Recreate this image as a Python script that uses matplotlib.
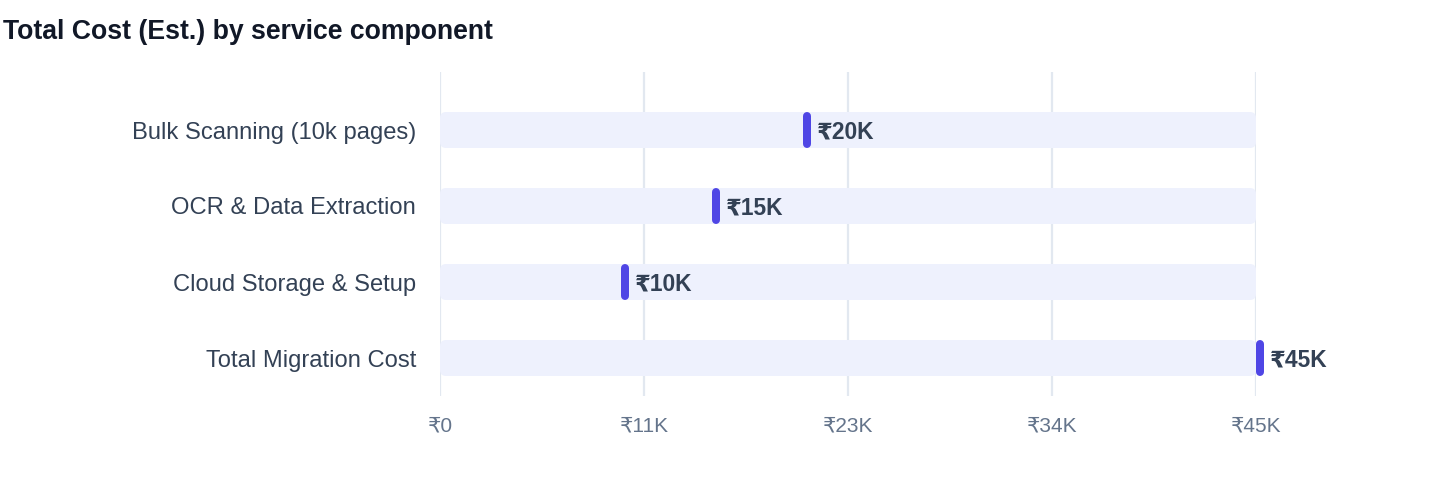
import matplotlib
matplotlib.use("Agg")
import matplotlib.pyplot as plt
from matplotlib.patches import FancyBboxPatch
from matplotlib import transforms

plt.rcParams['font.family'] = ['Liberation Sans', 'DejaVu Sans']

categories = ["Bulk Scanning (10k pages)", "OCR & Data Extraction",
              "Cloud Storage & Setup", "Total Migration Cost"]
values = [20000, 15000, 10000, 45000]
value_labels = ["₹20K", "₹15K", "₹10K", "₹45K"]
x_ticks = [0, 11250, 22500, 33750, 45000]
x_tick_labels = ["₹0", "₹11K", "₹23K", "₹34K", "₹45K"]
x_max = 45000
title = "Total Cost (Est.) by service component"

W, H = 1440, 484
fig = plt.figure(figsize=(W / 100, H / 100), dpi=100)
ax_left, ax_right, ax_top, ax_bottom = 440, 1256, 72, 396
ax = fig.add_axes([ax_left / W, 1 - ax_bottom / H, (ax_right - ax_left) / W, (ax_bottom - ax_top) / H])

row_px = 76
n = len(categories)
ymin = -(130 - ax_top) / row_px
ymax = (n - 1) + (ax_bottom - 358) / row_px
ax.set_xlim(0, x_max)
ax.set_ylim(ymax, ymin)

xu = x_max / (ax_right - ax_left)   # data units per px (x)
yu = 1 / row_px                      # data units per px (y)
track_h = 36 * yu

track_color = "#EEF1FD"
marker_color = "#4F46E5"

for i, (cat, v, lab) in enumerate(zip(categories, values, value_labels)):
    track = FancyBboxPatch((0, i - track_h / 2), x_max, track_h,
                           boxstyle=f"round,pad=0,rounding_size={6 * xu}",
                           mutation_aspect=yu / xu,
                           facecolor=track_color, edgecolor="none", zorder=2)
    ax.add_patch(track)
    off = transforms.offset_copy(ax.transData, fig=fig, x=4 * 0.72, y=0, units='points')
    ax.plot([v, v], [i - track_h / 2 + 4 * yu, i + track_h / 2 - 4 * yu],
            color=marker_color, lw=8 * 0.72, solid_capstyle='round',
            transform=off, zorder=4, clip_on=False)
    toff = transforms.offset_copy(ax.transData, fig=fig, x=14 * 0.72, y=-2 * 0.72, units='points')
    ax.text(v, i, lab, transform=toff, ha='left', va='center',
            fontsize=16.4, fontweight='bold', color="#334155", zorder=5)

ax.set_yticks(range(n))
ax.set_yticklabels(categories, fontsize=17.1, color="#334155")
ax.set_xticks(x_ticks)
ax.set_xticklabels(x_tick_labels, fontsize=15, color="#64748B")
ax.tick_params(axis='both', length=0)
ax.tick_params(axis='y', pad=24 * 0.72)
ax.tick_params(axis='x', pad=20 * 0.72)
ax.grid(axis='x', color="#E2E8F0", lw=1.6, zorder=1)
ax.set_axisbelow(True)
for s in ax.spines.values():
    s.set_visible(False)

fig.text(3 / W, 1 - 32 / H, title, fontsize=19.2, fontweight='bold',
         color="#111827", ha='left', va='center')

fig.savefig("out.png", dpi=100, facecolor="white")
